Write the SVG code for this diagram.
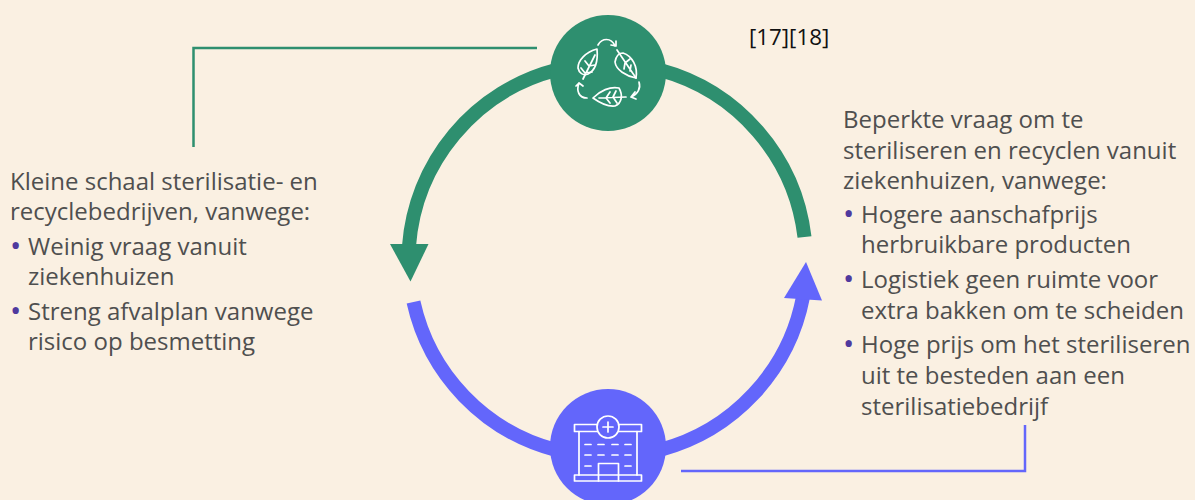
<svg xmlns="http://www.w3.org/2000/svg" width="1195" height="500" viewBox="0 0 1195 500">
<style>
.t{font-family:"Open Sans","Noto Sans",sans-serif;font-size:24px;fill:#4f4f4f}
.b{fill:#4f3a9e;font-size:30px}
.r{font-family:"Open Sans","Noto Sans",sans-serif;font-size:22.300px;fill:#111}
.i{fill:none;stroke:#fff;stroke-width:1.700;stroke-linecap:round;stroke-linejoin:round}
</style>
<rect width="1195" height="500" fill="#faf0e2"/>
<g id="connectors">
<path d="M660 70A197 197 0 0 1 804.500 237" fill="none" stroke="#2e8f6f" stroke-width="14"/>
<path d="M556 70A197 197 0 0 0 409 246" fill="none" stroke="#2e8f6f" stroke-width="14"/>
<polygon points="390,244 428.500,244 410.500,281.500" fill="#2e8f6f"/>
<path d="M413.500 302A197 197 0 0 0 556 450" fill="none" stroke="#6366fb" stroke-width="14"/>
<path d="M660 450A197 197 0 0 0 803 297" fill="none" stroke="#6366fb" stroke-width="14"/>
<polygon points="784,298 822,300.500 806,262" fill="#6366fb"/>
<polyline points="537,48 193.500,48 193.500,147" fill="none" stroke="#2e8f6f" stroke-width="2.500"/>
<polyline points="681,471 1025,471 1025,425" fill="none" stroke="#6366fb" stroke-width="2.500"/>
</g>
<g id="node-recycle">
<circle cx="608" cy="73" r="58" fill="#2e8f6f"/>
<g class="i">
<path d="M597 49C586 52 578 60 578 68C579 73 583 76 588 74C596 70 598 60 597 49Z"/>
<path d="M595 55L583 79M589 66L585 61M589 66L595 65M585 73L581 68M585 73L592 72"/>
<path d="M636 78C626 76 616 70 615 62C616 56 619 53 623 53C632 56 638 66 636 78Z"/>
<path d="M617 50L636 78M625 63L630 59M625 63L624 69M630 71L631 65"/>
<path d="M593 98C600 91 610 86 619 88C623 95 622 103 615 106C607 107 600 103 593 98Z"/>
<path d="M599 98L626 97M606 98L610 92M606 98L610 103M613 97L616 91M613 97L617 103"/>
<path d="M598 45C602 38 611 37 615 46M611 45L616 46L616 41"/>
<path d="M639 82C641 88 638 94 631 97M635 92L631 97L636 99"/>
<path d="M587 98C579 98 576 91 579 83M576 86L579 83L583 86"/>
</g>
</g>
<g id="node-hospital">
<circle cx="608" cy="447" r="58" fill="#6366fb"/>
<g class="i">
<path d="M597 424.500H574.500V431.500H597M619 424.500H641.500V431.500H619"/>
<circle cx="608" cy="427" r="11"/>
<path d="M608 422V432M603 427H613"/>
<path d="M579 431.500V475M637 431.500V475"/>
<path d="M574.500 475H641.500V481H574.500Z"/>
<path d="M598.500 481V463.500H618.500V481"/>
<path d="M585 444.500H591M598 444.500H604M612 444.500H618M625 444.500H631M585 455H591M598 455H604M612 455H618M625 455H631M585 466H591M625 466H631"/>
</g>
</g>
<g id="refs"><text class="r" x="749" y="45">[17][18]</text></g>
<g id="text-left">
<text class="t" x="10" y="190">Kleine schaal sterilisatie- en</text>
<text class="t" x="10" y="220">recyclebedrijven, vanwege:</text>
<text class="t"><tspan class="b" x="10" y="256">•</tspan><tspan x="28" y="255">Weinig vraag vanuit</tspan></text>
<text class="t" x="28" y="285">ziekenhuizen</text>
<text class="t"><tspan class="b" x="10" y="321">•</tspan><tspan x="28" y="320">Streng afvalplan vanwege</tspan></text>
<text class="t" x="28" y="350">risico op besmetting</text>
</g>
<g id="text-right">
<text class="t" x="843" y="128">Beperkte vraag om te</text>
<text class="t" x="843" y="159">steriliseren en recyclen vanuit</text>
<text class="t" x="843" y="189">ziekenhuizen, vanwege:</text>
<text class="t"><tspan class="b" x="843" y="224">•</tspan><tspan x="861" y="223">Hogere aanschafprijs</tspan></text>
<text class="t" x="861" y="253">herbruikbare producten</text>
<text class="t"><tspan class="b" x="843" y="289">•</tspan><tspan x="861" y="288">Logistiek geen ruimte voor</tspan></text>
<text class="t" x="861" y="319">extra bakken om te scheiden</text>
<text class="t"><tspan class="b" x="843" y="354">•</tspan><tspan x="861" y="353">Hoge prijs om het steriliseren</tspan></text>
<text class="t" x="861" y="384">uit te besteden aan een</text>
<text class="t" x="861" y="415">sterilisatiebedrijf</text>
</g>
</svg>
